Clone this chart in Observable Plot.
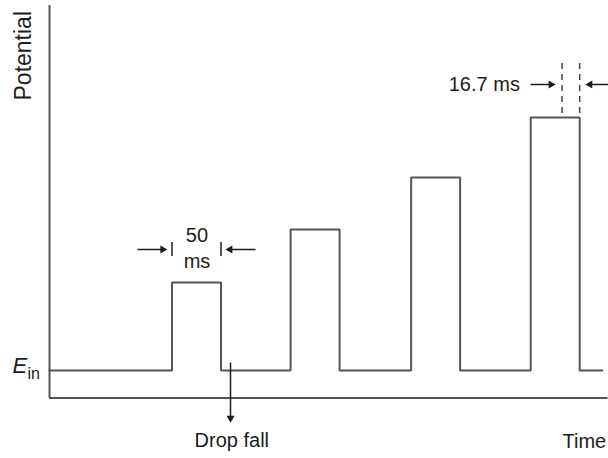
<!DOCTYPE html>
<html><head><meta charset="utf-8">
<script src="https://cdn.jsdelivr.net/npm/d3@7"></script>
<script src="https://cdn.jsdelivr.net/npm/@observablehq/plot@0.6"></script>
<style>body{margin:0;background:#fff}#chart{width:608px;height:458px}</style>
</head><body><div id="chart"></div>
<script>
// Time in ms (origin at the potential axis), potential in arbitrary units above E_in
const pulseStart = [125, 246, 369, 491];
const pulseWidth = 50;
const pulseHeight = [88, 141, 193, 253];
const tEnd = 564;
const axisBottom = -27.5, axisTop = 365, axisRight = 570;

// Annotation values
const widthBars = [125, 175];            // "50 ms" bracket bars
const sampleDash = [523, 541];           // "16.7 ms" sampling window
const dropFallT = 184.7;

const arrowLines = [
  {x1: 89.8, x2: 116, y1: 121, y2: 121},
  {x1: 183, x2: 210.2, y1: 121, y2: 121},
  {x1: 490.8, x2: 512, y1: 286, y2: 286},
  {x1: 551, x2: 575, y1: 286, y2: 286},
  {x1: dropFallT, x2: dropFallT, y1: 8, y2: -47}
];
const arrowHeads = [
  {x: 115.5, y: 121, r: 90},
  {x: 184.2, y: 121, r: -90},
  {x: 511.7, y: 286, r: 90},
  {x: 551.5, y: 286, r: -90},
  {x: dropFallT, y: -47.5, r: 180}
];

const centerLabels = [
  {x: 150.5, y: 129, text: "50"},
  {x: 150.5, y: 103, text: "ms"},
  {x: 186, y: -76.7, text: "Drop fall"}
];
const endLabels = [{x: 480, y: 280, text: "16.7 ms"}];
const startLabels = [{x: 523.5, y: -77, text: "Time"}];

const wave = [{t: 0, v: 0}];
pulseStart.forEach((s, i) => {
  wave.push({t: s, v: 0}, {t: s, v: pulseHeight[i]},
            {t: s + pulseWidth, v: pulseHeight[i]}, {t: s + pulseWidth, v: 0});
});
wave.push({t: tEnd, v: 0});

const font = "Liberation Sans, Arial, Helvetica, sans-serif";
const ink = "#1c1c1c";
const txt = {x: "x", y: "y", text: "text", lineAnchor: "bottom", fontSize: 20, fill: ink};

const chart = Plot.plot({
  width: 608, height: 458,
  margin: 0,
  style: {fontFamily: font, background: "#fff", overflow: "visible"},
  x: {domain: [0, 570], range: [49, 607.6], axis: null},
  y: {domain: [0, 370], range: [370, 0], axis: null},
  marks: [
    Plot.ruleX([0], {y1: axisBottom, y2: axisTop, stroke: "#555", strokeWidth: 2}),
    Plot.ruleY([axisBottom], {x1: 0, x2: axisRight, stroke: "#555", strokeWidth: 2}),
    Plot.line(wave, {x: "t", y: "v", stroke: "#555", strokeWidth: 2, curve: "linear", strokeLinejoin: "miter"}),
    Plot.ruleX(widthBars, {y1: 114, y2: 128, stroke: ink, strokeWidth: 1.5}),
    Plot.ruleX(sampleDash, {y1: 307, y2: pulseHeight[3], stroke: "#444", strokeWidth: 1.5, strokeDasharray: "6,5"}),
    Plot.link(arrowLines, {x1: "x1", y1: "y1", x2: "x2", y2: "y2", stroke: ink, strokeWidth: 1.5}),
    Plot.dot(arrowHeads, {x: "x", y: "y", rotate: "r", symbol: "triangle", r: 3, fill: ink, stroke: "none"}),
    Plot.text(centerLabels, {...txt, textAnchor: "middle"}),
    Plot.text(endLabels, {...txt, textAnchor: "end"}),
    Plot.text(startLabels, {...txt, textAnchor: "start"}),
    Plot.text(["Potential"], {x: -18.4, y: 270, rotate: -90, textAnchor: "start", lineAnchor: "bottom", fontSize: 23, fill: ink}),
    Plot.text(["E"], {x: -37.8, y: -2, textAnchor: "start", lineAnchor: "bottom", fontSize: 22, fontStyle: "italic", fill: ink}),
    Plot.text(["in"], {x: -22.4, y: -8, textAnchor: "start", lineAnchor: "bottom", fontSize: 16, fill: ink})
  ]
});
document.getElementById("chart").appendChild(chart);
</script>
</body></html>
